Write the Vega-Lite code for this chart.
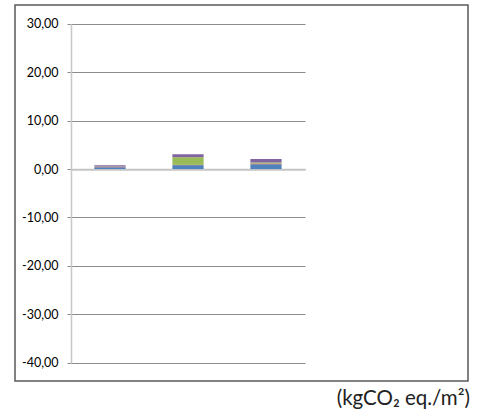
{
  "$schema": "https://vega.github.io/schema/vega-lite/v6.json",
  "autosize": {"type": "none"},
  "padding": {"left": 15, "top": 5, "right": 17, "bottom": 36},
  "width": 453,
  "height": 376,
  "background": "white",
  "title": {
    "text": "(kgCO₂ eq./m²)",
    "orient": "bottom",
    "anchor": "end",
    "font": "Lato",
    "fontSize": 20.5,
    "fontWeight": "normal",
    "color": "#222222",
    "offset": 8,
    "dx": 2
  },
  "data": {
    "values": [
      {"cat": "A", "series": "s1", "value": 0.35},
      {"cat": "A", "series": "s2", "value": 0.1},
      {"cat": "A", "series": "s3", "value": 0.05},
      {"cat": "A", "series": "s4", "value": 0.3},
      {"cat": "B", "series": "s1", "value": 0.8},
      {"cat": "B", "series": "s2", "value": 0.05},
      {"cat": "B", "series": "s3", "value": 1.6},
      {"cat": "B", "series": "s4", "value": 0.6},
      {"cat": "C", "series": "s1", "value": 1.0},
      {"cat": "C", "series": "s2", "value": 0.15},
      {"cat": "C", "series": "s3", "value": 0.2},
      {"cat": "C", "series": "s4", "value": 0.7}
    ]
  },
  "mark": {"type": "bar"},
  "encoding": {
    "x": {
      "field": "cat",
      "type": "nominal",
      "scale": {"range": [56, 290], "paddingInner": 0.6, "paddingOuter": 0.3},
      "axis": {
        "labels": false,
        "ticks": false,
        "title": null,
        "domainColor": "#c4c4c4",
        "domainWidth": 2,
        "offset": -211.8,
        "zindex": 0
      }
    },
    "y": {
      "field": "value",
      "type": "quantitative",
      "aggregate": "sum",
      "stack": "zero",
      "scale": {"domain": [-40, 30], "range": [357.8, 18.7], "nice": false, "zero": false},
      "axis": {
        "values": [-40, -30, -20, -10, 0, 10, 20, 30],
        "title": null,
        "offset": -56,
        "grid": true,
        "gridColor": "#8c8c8c",
        "gridWidth": 1,
        "domainColor": "#c8c8c8",
        "domainWidth": 1.5,
        "tickColor": "#8c8c8c",
        "tickSize": 4,
        "labelPadding": 9,
        "labelFont": "Lato",
        "labelFontSize": 12.5,
        "labelColor": "#000000",
        "labelExpr": "replace((datum.value < 0 ? '-' : '') + format(abs(datum.value), '.2f'), '.', ',')"
      }
    },
    "color": {
      "field": "series",
      "type": "nominal",
      "scale": {"domain": ["s1", "s2", "s3", "s4"], "range": ["#4F81BD", "#C0504D", "#9BBB59", "#8064A2"]},
      "legend": null
    },
    "order": {"field": "series", "sort": "ascending"}
  },
  "config": {
    "view": {"stroke": "#5a5a5a", "strokeWidth": 1.5}
  }
}
